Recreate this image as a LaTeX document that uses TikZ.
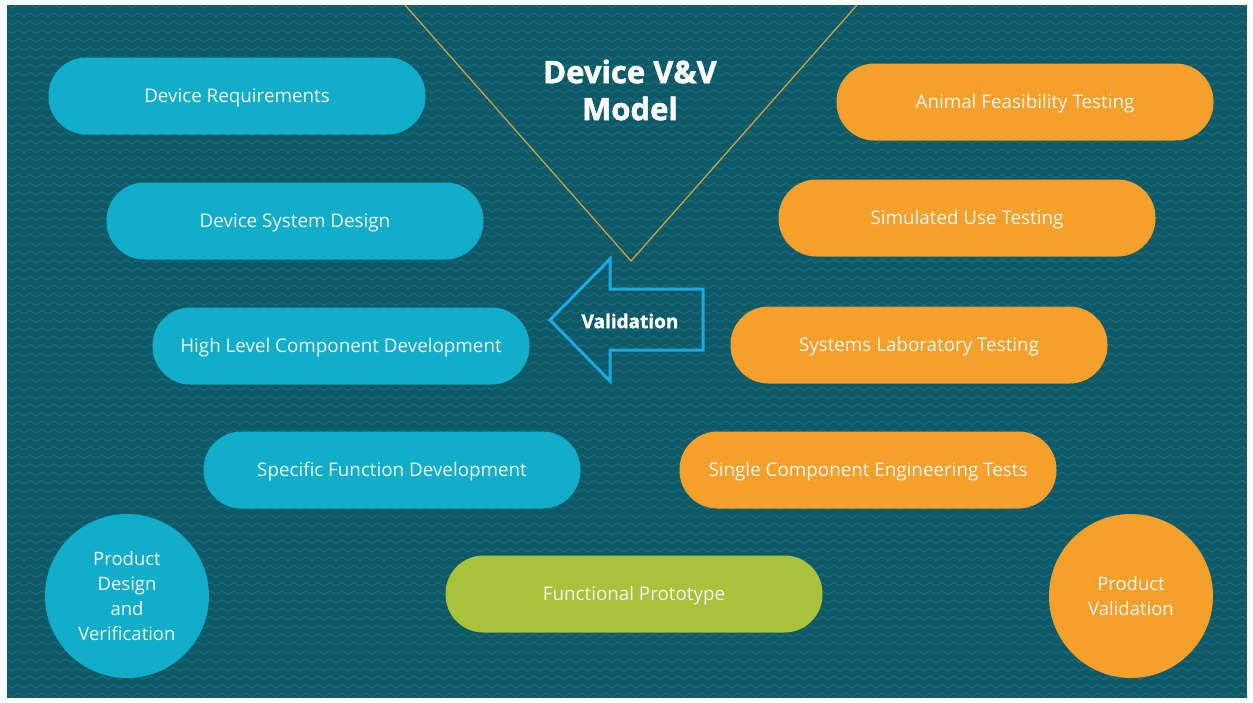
\documentclass[tikz,border=0pt]{standalone}
\usepackage{fontspec}
\setmainfont{Open Sans}
\newfontfamily\heavyfont{Open Sans}[BoldFeatures={FakeBold=1.6}]
\definecolor{bgteal}{HTML}{0D5967}
\definecolor{zigteal}{HTML}{1A6A77}
\definecolor{pillblue}{HTML}{12ADC9}
\definecolor{pillorange}{HTML}{F4A02A}
\definecolor{pillgreen}{HTML}{A8C23B}
\definecolor{vgold}{HTML}{C9A043}
\definecolor{arrowblue}{HTML}{1FA9E1}
\definecolor{softwhite}{HTML}{EEF6F4}

\begin{document}
\begin{tikzpicture}[x=1pt,y=-1pt,
  pill/.style={rectangle, rounded corners=38pt, minimum width=377pt,
    minimum height=77pt, inner sep=0pt, text=softwhite,
    text height=13.4pt, text depth=0pt,
    font=\fontsize{18.8}{23}\selectfont},
  bluepill/.style={pill, fill=pillblue},
  orangepill/.style={pill, fill=pillorange},
  greenpill/.style={pill, fill=pillgreen},
  disc/.style={circle, minimum size=164pt, inner sep=0pt, align=center,
    text=softwhite, font=\fontsize{18.5}{25}\selectfont},
  heading/.style={text=white, align=center,
    font=\heavyfont\bfseries\fontsize{31}{37}\selectfont},
]
\useasboundingbox (0,0) rectangle (1253,702);
\fill[white] (0,0) rectangle (1253,702);

% patterned backdrop
\fill[bgteal] (7,5) rectangle (1247,698);
\begin{scope}
  \clip (7,5) rectangle (1247,698);
  \foreach \r in {0,...,82} {
    \draw[zigteal, line width=1.2pt] (0,{8+8.5*\r})
      \foreach \k in {1,...,105} { -- ++(6,-3.5) -- ++(6,3.5) };
  }
\end{scope}

% the V
\coordinate (vleft) at (405,5);
\coordinate (vbottom) at (631,261);
\coordinate (vright) at (857,5);
\draw[vgold, line width=1.3pt] (vleft) -- (vbottom) -- (vright);

\node[heading] (title) at (630,90) {Device V\&V\\Model};

% validation arrow
\draw[arrowblue, line width=3pt, line join=miter]
  (550,320) -- (610,259) -- (610,289) -- (703,289) -- (703,350)
  -- (610,350) -- (610,381) -- cycle;
\node[text=white, font=\heavyfont\bfseries\fontsize{19}{22}\selectfont]
  (validation) at (630,321) {Validation};

% design side
\node[bluepill] (req) at (237,96) {Device Requirements};
\node[bluepill] (sys) at (295,221) {Device System Design};
\node[bluepill] (hlc) at (341,346) {High Level Component Development};
\node[bluepill] (sfd) at (392,470) {Specific Function Development};

% testing side
\node[orangepill] (animal) at (1025,102) {Animal Feasibility Testing};
\node[orangepill] (simuse) at (967,218) {Simulated Use Testing};
\node[orangepill] (syslab) at (919,345) {Systems Laboratory Testing};
\node[orangepill] (single) at (868,470) {Single Component Engineering Tests};

\node[greenpill] (proto) at (634,594) {Functional Prototype};

\node[disc, fill=pillblue] (pdv) at (127,596) {Product\\Design\\and\\Verification};
\node[disc, fill=pillorange] (pv) at (1131,596) {Product\\Validation};
\end{tikzpicture}
\end{document}
